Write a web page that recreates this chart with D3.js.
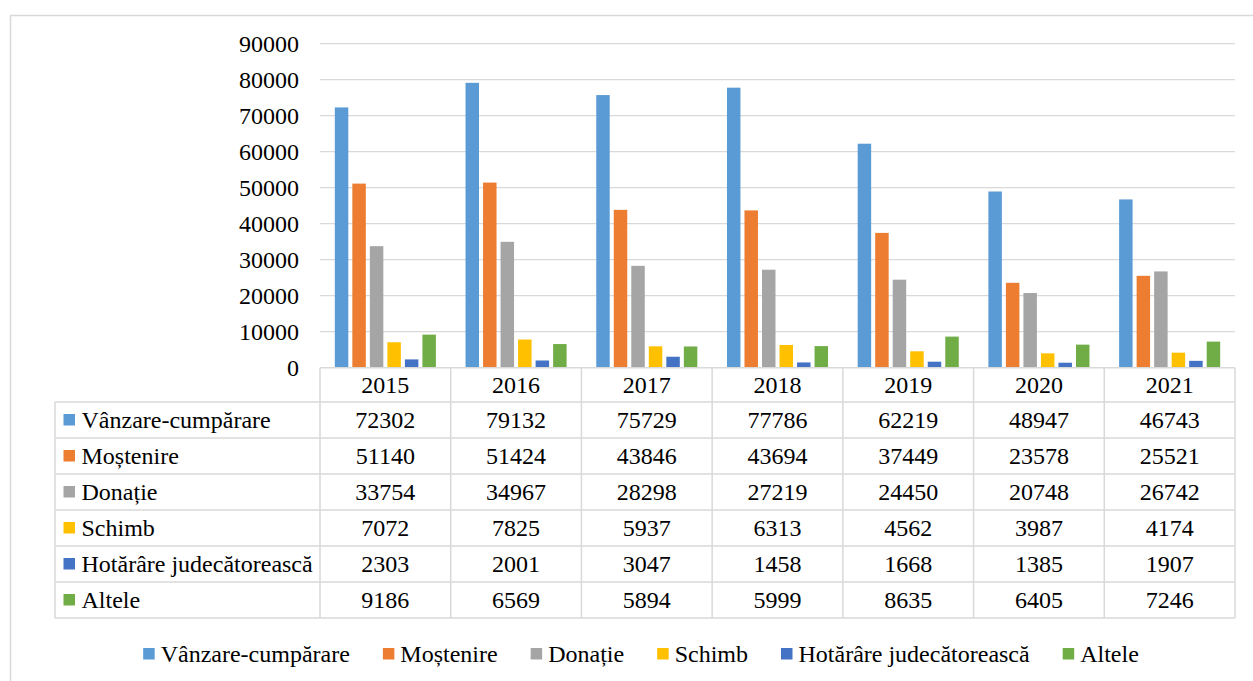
<!DOCTYPE html>
<html>
<head>
<meta charset="utf-8">
<script src="https://cdn.jsdelivr.net/npm/d3@7"></script>
<style>
  html, body { margin: 0; padding: 0; background: #fff; }
  svg { display: block; }
</style>
</head>
<body>
<svg id="chart" width="1253" height="681"></svg>
<script>
const years = ["2015", "2016", "2017", "2018", "2019", "2020", "2021"];
const seriesNames = ["Vânzare-cumpărare", "Moștenire", "Donație", "Schimb", "Hotărâre judecătorească", "Altele"];
const vanzare = [72302, 79132, 75729, 77786, 62219, 48947, 46743];
const mostenire = [51140, 51424, 43846, 43694, 37449, 23578, 25521];
const donatie = [33754, 34967, 28298, 27219, 24450, 20748, 26742];
const schimb = [7072, 7825, 5937, 6313, 4562, 3987, 4174];
const hotarare = [2303, 2001, 3047, 1458, 1668, 1385, 1907];
const altele = [9186, 6569, 5894, 5999, 8635, 6405, 7246];
const yTicks = [0, 10000, 20000, 30000, 40000, 50000, 60000, 70000, 80000, 90000];
const colors = ["#5B9BD5", "#ED7D31", "#A5A5A5", "#FFC000", "#4472C4", "#70AD47"];

const seriesValues = [vanzare, mostenire, donatie, schimb, hotarare, altele];

const FONT = "'Liberation Serif', 'Times New Roman', Times, serif";
const svg = d3.select("#chart").style("font-family", FONT);
const fontSize = 24;
const gridColor = "#D9D9D9";

function styleText(sel) {
  return sel.style("font-family", FONT).style("font-size", fontSize + "px").style("fill", "#000");
}

// outer frame
svg.append("rect")
  .attr("x", 10.5).attr("y", 15.5)
  .attr("width", 1260).attr("height", 700)
  .attr("fill", "none").attr("stroke", gridColor).attr("stroke-width", 1.5);

const plotLeft = 320, plotRight = 1235, plotTop = 43.7, plotBottom = 367.7;

const x0 = d3.scaleBand().domain(years).range([plotLeft, plotRight]).paddingInner(0).paddingOuter(0);
const x1 = d3.scaleBand().domain(seriesNames).range([0, x0.bandwidth()])
  .paddingInner(0.3 / 1.3).paddingOuter(0.846);
const y = d3.scaleLinear().domain([0, 90000]).range([plotBottom, plotTop]);

// gridlines
svg.append("g").selectAll("line").data(yTicks.filter(d => d > 0)).join("line")
  .attr("x1", plotLeft).attr("x2", plotRight)
  .attr("y1", d => y(d)).attr("y2", d => y(d))
  .attr("stroke", gridColor).attr("stroke-width", 1.3);

// y axis labels via d3 axis
const yAxis = d3.axisLeft(y).tickValues(yTicks).tickFormat(d3.format("d")).tickSize(0).tickPadding(0);
const yg = svg.append("g").attr("transform", `translate(299,0)`).call(yAxis);
yg.attr("font-family", null).attr("font-size", null);
yg.select(".domain").remove();
yg.selectAll("text").call(styleText).attr("dy", "0.34em");

// bars
const groups = svg.append("g").selectAll("g").data(years).join("g")
  .attr("transform", d => `translate(${x0(d)},0)`);
groups.selectAll("rect")
  .data((yr, i) => seriesNames.map((s, j) => ({ s, j, v: seriesValues[j][i] })))
  .join("rect")
  .attr("x", d => x1(d.s))
  .attr("width", x1.bandwidth())
  .attr("y", d => y(d.v))
  .attr("height", d => y(0) - y(d.v))
  .attr("fill", d => colors[d.j]);

// data table
const tableLeft = 55;
const headerTop = plotBottom;
const rowH = 36;
const headerBottom = 402;
const tableBottom = headerBottom + rowH * seriesNames.length;
const tg = svg.append("g");
const lineAttrs = sel => sel.attr("stroke", gridColor).attr("stroke-width", 1.5).attr("fill", "none");

tg.append("line").attr("x1", plotLeft).attr("x2", plotRight).attr("y1", headerTop).attr("y2", headerTop).call(lineAttrs);
for (let r = 0; r <= seriesNames.length; r++) {
  const yy = headerBottom + r * rowH;
  tg.append("line").attr("x1", tableLeft).attr("x2", plotRight).attr("y1", yy).attr("y2", yy).call(lineAttrs);
}
tg.append("line").attr("x1", tableLeft).attr("x2", tableLeft).attr("y1", headerBottom).attr("y2", tableBottom).call(lineAttrs);
years.forEach(yr => {
  tg.append("line").attr("x1", x0(yr)).attr("x2", x0(yr)).attr("y1", headerTop).attr("y2", tableBottom).call(lineAttrs);
});
tg.append("line").attr("x1", plotRight).attr("x2", plotRight).attr("y1", headerTop).attr("y2", tableBottom).call(lineAttrs);

tg.selectAll("text.yr").data(years).join("text").attr("class", "yr")
  .attr("x", d => x0(d) + x0.bandwidth() / 2)
  .attr("y", (headerTop + headerBottom) / 2)
  .attr("dy", "0.34em").attr("text-anchor", "middle")
  .call(styleText)
  .text(d => d);

seriesNames.forEach((s, j) => {
  const cy = headerBottom + j * rowH + rowH / 2;
  tg.append("rect").attr("x", 63.5).attr("y", cy - 6).attr("width", 11.5).attr("height", 11.5).attr("fill", colors[j]);
  tg.append("text").attr("x", 81.5).attr("y", cy).attr("dy", "0.34em").call(styleText).text(s);
  tg.selectAll(null).data(years).join("text")
    .attr("x", d => x0(d) + x0.bandwidth() / 2)
    .attr("y", cy).attr("dy", "0.34em").attr("text-anchor", "middle")
    .call(styleText)
    .text((d, i) => seriesValues[j][i]);
});

// legend
const legendY = 654;
const lg = svg.append("g");
const items = lg.selectAll("g").data(seriesNames).join("g");
items.append("rect").attr("width", 11.5).attr("height", 11.5).attr("y", legendY - 6)
  .attr("fill", (d, i) => colors[i]);
items.append("text").attr("x", 17.5).attr("y", legendY).attr("dy", "0.34em")
  .call(styleText).text(d => d);
let cx = 0;
const offsets = [];
items.each(function () {
  const w = d3.select(this).select("text").node().getComputedTextLength();
  offsets.push(cx);
  cx += 17.5 + w + 33;
});
const totalW = cx - 33;
const startX = 641 - totalW / 2;
items.attr("transform", (d, i) => `translate(${startX + offsets[i]},0)`);
</script>
</body>
</html>
